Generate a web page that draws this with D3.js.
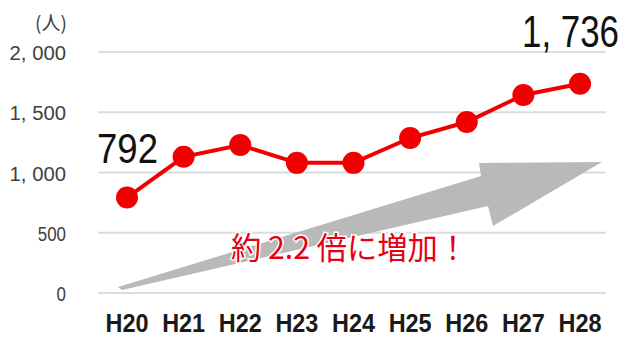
<!DOCTYPE html>
<html>
<head>
<meta charset="utf-8">
<script src="https://cdn.jsdelivr.net/npm/d3@7"></script>
<style>
  body { margin: 0; background: #fff; }
  svg { display: block; }
</style>
</head>
<body>
<script>
// data
const years = ['H20', 'H21', 'H22', 'H23', 'H24', 'H25', 'H26', 'H27', 'H28'];
const people = [792, 1130, 1228, 1080, 1080, 1286, 1419, 1643, 1736];
const yTicks = [0, 500, 1000, 1500, 2000];

const W = 625, H = 338;
const narrow = 'Liberation Sans Narrow, Liberation Sans, sans-serif';
const svg = d3.select('body').append('svg')
    .attr('width', W)
    .attr('height', H);

const x = d3.scalePoint().domain(years).range([127, 580]);
const y = d3.scaleLinear().domain([0, 2000]).range([293, 52]);

// gridlines
svg.append('g')
    .selectAll('line')
    .data(yTicks)
    .enter()
    .append('line')
    .attr('x1', 98)
    .attr('x2', 606)
    .attr('y1', d => y(d))
    .attr('y2', d => y(d))
    .attr('stroke', '#dcdcdc')
    .attr('stroke-width', 2);

// y labels (narrow look -> squeeze with textLength)
const fmt = d => d3.format(',')(d).replace(',', ', ');
svg.append('g')
    .selectAll('text')
    .data(yTicks)
    .enter()
    .append('text')
    .attr('x', 66)
    .attr('y', d => y(d) + 8)
    .attr('text-anchor', 'end')
    .attr('font-family', narrow)
    .attr('font-size', 20)
    .attr('fill', '#404040')
    .attr('textLength', d => fmt(d).length * 9.4)
    .attr('lengthAdjust', 'spacingAndGlyphs')
    .text(fmt);

svg.append('text')
    .attr('x', 51)
    .attr('y', 30)
    .attr('text-anchor', 'middle')
    .attr('font-family', 'Noto Sans CJK JP, sans-serif')
    .attr('font-size', 19)
    .attr('fill', '#404040')
    .text('(人)');

// x labels
svg.append('g')
    .selectAll('text')
    .data(years)
    .enter()
    .append('text')
    .attr('x', d => x(d))
    .attr('y', 332)
    .attr('text-anchor', 'middle')
    .attr('font-family', narrow)
    .attr('font-weight', 'bold')
    .attr('font-size', 25)
    .attr('fill', '#1a1a1a')
    .attr('textLength', 43)
    .attr('lengthAdjust', 'spacingAndGlyphs')
    .text(d => d);

// grey arrow behind the text
const arrow = [[118, 287], [481, 176], [479, 163], [602, 162], [493, 226], [488, 206], [122, 290]];
svg.append('path')
    .attr('d', d3.line()(arrow) + 'Z')
    .attr('fill', '#b9b9b9');

svg.append('text')
    .attr('x', 231)
    .attr('y', 259)
    .attr('font-family', 'Noto Sans CJK JP, sans-serif')
    .attr('font-size', 31)
    .attr('fill', '#e60012')
    .attr('stroke', '#fff')
    .attr('stroke-width', 3)
    .attr('paint-order', 'stroke')
    .attr('textLength', 237)
    .attr('lengthAdjust', 'spacingAndGlyphs')
    .text('約 2.2 倍に増加！');

// line + dots
svg.append('path')
    .datum(people)
    .attr('fill', 'none')
    .attr('stroke', '#f00000')
    .attr('stroke-width', 4)
    .attr('d', d3.line().x((d, i) => x(years[i])).y(d => y(d)));

svg.append('g')
    .selectAll('circle')
    .data(people)
    .enter()
    .append('circle')
    .attr('cx', (d, i) => x(years[i]))
    .attr('cy', d => y(d))
    .attr('r', 11)
    .attr('fill', '#f00000');

// callouts for first and last values, squeezed horizontally to a given width
function callout(txt, left, base, size, width) {
    const g = svg.append('g');
    const t = g.append('text')
        .attr('font-family', narrow)
        .attr('font-size', size)
        .attr('fill', '#111')
        .text(txt);
    const k = width / t.node().getComputedTextLength();
    g.attr('transform', `translate(${left},${base}) scale(${k},1)`);
}
callout(fmt(people[0]), 97, 163, 43, 61);
callout(fmt(people[people.length - 1]), 522, 47, 44, 97);
</script>
</body>
</html>
